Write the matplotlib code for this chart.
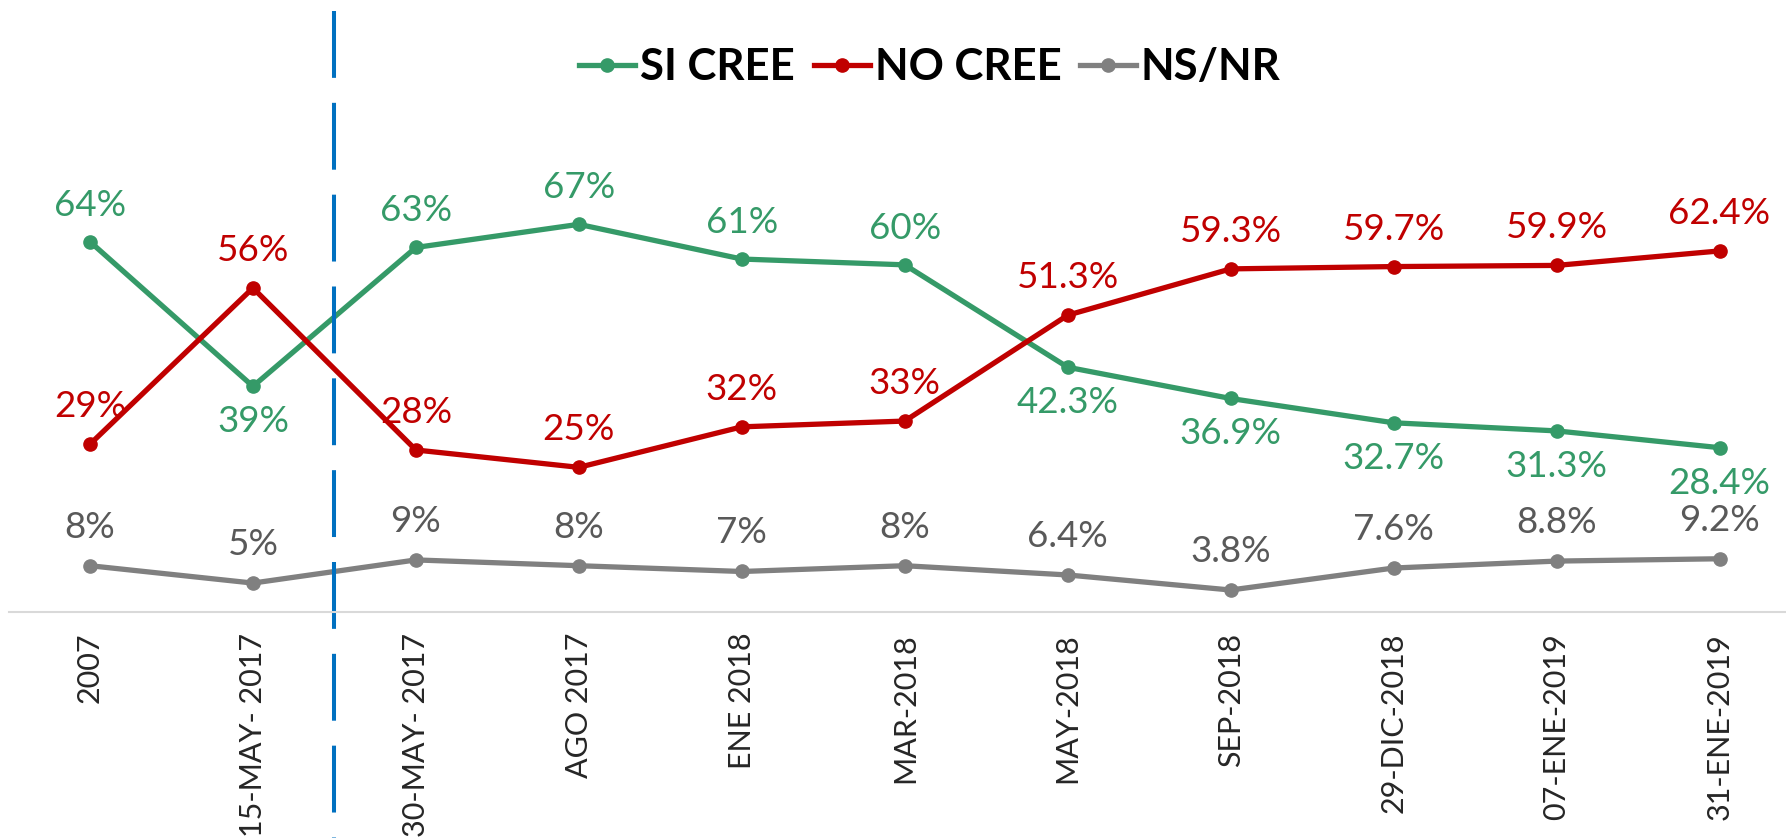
import matplotlib
matplotlib.use('Agg')
import matplotlib.pyplot as plt

fechas = ['2007', '15-MAY- 2017', '30-MAY- 2017', 'AGO 2017', 'ENE 2018', 'MAR-2018',
          'MAY-2018', 'SEP-2018', '29-DIC-2018', '07-ENE-2019', '31-ENE-2019']
si_cree = [64, 39, 63, 67, 61, 60, 42.3, 36.9, 32.7, 31.3, 28.4]
no_cree = [29, 56, 28, 25, 32, 33, 51.3, 59.3, 59.7, 59.9, 62.4]
ns_nr = [8, 5, 9, 8, 7, 8, 6.4, 3.8, 7.6, 8.8, 9.2]
si_labels = ['64%', '39%', '63%', '67%', '61%', '60%', '42.3%', '36.9%', '32.7%', '31.3%', '28.4%']
no_labels = ['29%', '56%', '28%', '25%', '32%', '33%', '51.3%', '59.3%', '59.7%', '59.9%', '62.4%']
ns_labels = ['8%', '5%', '9%', '8%', '7%', '8%', '6.4%', '3.8%', '7.6%', '8.8%', '9.2%']
si_below = [1, 6, 7, 8, 9, 10]   # puntos con la etiqueta verde debajo

VERDE = '#359A68'
ROJO = '#C00000'
GRIS = '#808080'

plt.rcParams['font.family'] = ['Lato', 'DejaVu Sans']

fig = plt.figure(figsize=(17.86, 8.38), dpi=100)
ax = fig.add_axes([8.5 / 1786, 1 - 612 / 838, 1792.5 / 1786, 612 / 838])
x = list(range(len(fechas)))

ax.plot(x, si_cree, color=VERDE, lw=3.8, marker='o', ms=9.5, label='SI CREE')
ax.plot(x, no_cree, color=ROJO, lw=3.8, marker='o', ms=9.5, label='NO CREE')
ax.plot(x, ns_nr, color=GRIS, lw=3.8, marker='o', ms=9.5, label='NS/NR')

ax.set_xlim(-0.5, 10.5)
ax.set_ylim(0, 105.77)

# línea divisoria punteada
ax.plot([1.5, 1.5], [103.9, -40], color='#0070C0', lw=2.9,
        linestyle=(0, (16.6, 6.2)), clip_on=False, solid_capstyle='butt')

fs = 26.5
for i in x:
    if i in si_below:
        ax.annotate(si_labels[i], (i, si_cree[i]), xytext=(0, -19), textcoords='offset pixels',
                    ha='center', va='top', color=VERDE, fontsize=fs)
    else:
        ax.annotate(si_labels[i], (i, si_cree[i]), xytext=(0, 26), textcoords='offset pixels',
                    ha='center', va='baseline', color=VERDE, fontsize=fs)
    ax.annotate(no_labels[i], (i, no_cree[i]), xytext=(0, 27), textcoords='offset pixels',
                ha='center', va='baseline', color=ROJO, fontsize=fs)
    ax.annotate(ns_labels[i], (i, ns_nr[i]), xytext=(0, 28), textcoords='offset pixels',
                ha='center', va='baseline', color='#595959', fontsize=fs)

ax.set_xticks(x)
ax.set_xticklabels(fechas, rotation=90, fontsize=22, color='#262626')
ax.tick_params(axis='x', length=0, pad=15)
ax.set_yticks([])
for s in ['top', 'left', 'right']:
    ax.spines[s].set_visible(False)
ax.spines['bottom'].set_color('#D9D9D9')
ax.spines['bottom'].set_linewidth(1.5)
ax.patch.set_visible(False)

fig.legend(loc='center', bbox_to_anchor=(930 / 1786, 1 - 67 / 838), ncol=3, frameon=False,
           prop={'weight': 'bold', 'size': 31.5}, handlelength=1.28, handletextpad=0.11,
           columnspacing=0.43, borderpad=0)

fig.savefig('out.png', dpi=100)
